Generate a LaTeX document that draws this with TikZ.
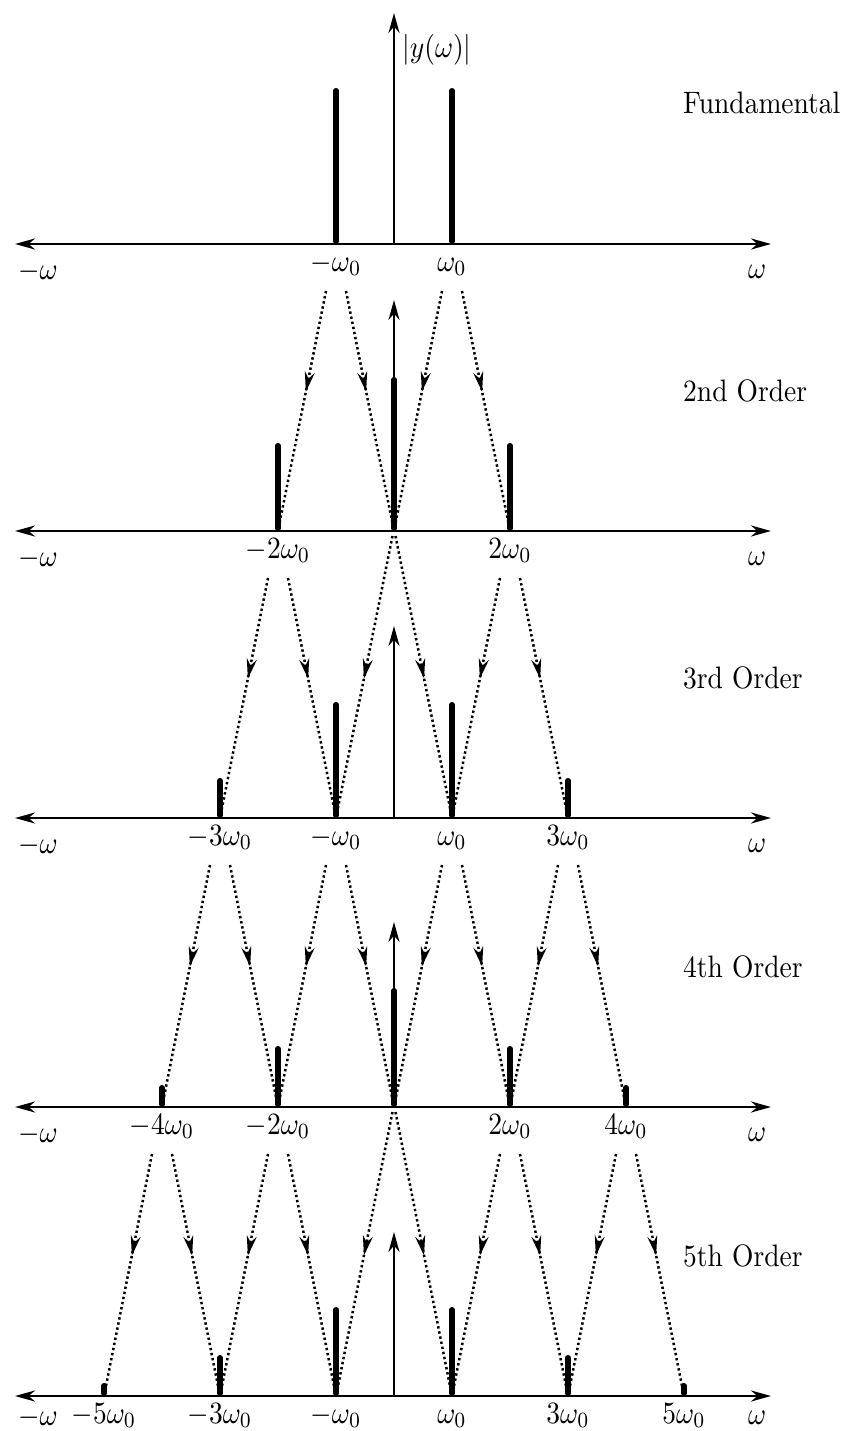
\documentclass[tikz,border=0pt]{standalone}
\usetikzlibrary{arrows.meta,decorations.markings,calc}
\newcommand{\wlab}[1]{%
  \ifnum#1=1 $\omega_0$\else\ifnum#1=-1 $-\omega_0$\else $#1\omega_0$\fi\fi}
\newcommand{\bigtxt}[1]{\scalebox{2.75}[3.1]{#1}}
\begin{document}
\begin{tikzpicture}[x=1pt,y=-1pt,
  axisline/.style={line width=2.8pt,{Stealth[length=20pt,width=11pt]}-{Stealth[length=20pt,width=11pt]}},
  yaxis/.style={line width=2.4pt,-{Stealth[length=20pt,width=11pt]}},
  bar/.style={line width=5.5pt,line cap=round,shorten <=2.75pt},
  dotline/.style={line width=2.5pt,dash pattern=on 2.4pt off 2.8pt},
  midarrow/.style={postaction={decorate},decoration={markings,
     mark=at position #1 with {\arrow{Stealth[length=20pt,width=10pt]}}}},
  lab/.style={inner sep=0pt},
  ttl/.style={inner sep=0pt,anchor=base west}]
\useasboundingbox (0,0) rectangle (853,1431);

% panels: axes, bars, labels
\foreach \p/\A/\T/\ttext/\bars/\lo in {
  1/244/13/{Fundamental}/{-1/156,1/156}/35,
  2/531/300/{2nd Order}/{-2/88,0/154,2/88}/35,
  3/818/626/{3rd Order}/{-3/40,-1/116,1/116,3/40}/35,
  4/1107/922/{4th Order}/{-4/22,-2/61,0/119,2/61,4/22}/35,
  5/1396/1232/{5th Order}/{-5/13,-3/41,-1/89,1/89,3/41,5/13}/29} {
  \coordinate (L\p) at (15,\A);
  \coordinate (R\p) at (771,\A);
  \draw[axisline] (L\p) -- (R\p);
  \foreach \n/\h in \bars {
    \coordinate (b\p_\n) at ({394+58*\n},\A);
    \coordinate (t\p_\n) at ({394+58*\n},{\A-\h+2.75});
    \draw[bar] (b\p_\n) -- (t\p_\n);
    \ifnum\n=0\else
      \node[lab,anchor=base] (w\p_\n) at ({394+58*\n},{\A+27}) {\bigtxt{\wlab{\n}}};
    \fi
  }
  \coordinate (O\p) at (394,\A);
  \coordinate (T\p) at (394,\T);
  \draw[yaxis] (O\p) -- (T\p);
  \node[lab,anchor=base west] (lw\p) at (18,{\A+\lo}) {\bigtxt{$-\omega$}};
  \node[lab,anchor=base west] (rw\p) at (748,{\A+\lo-1}) {\bigtxt{$\omega$}};
  \node[ttl] (ttl\p) at (683,{\A-130}) {\bigtxt{\ttext}};
}
\node[lab,anchor=base west] (ylab) at (402,58) {\bigtxt{$|y(\omega)|$}};

% dotted arrows between panels
\foreach \p/\Aprev/\A/\ns in {
  2/244/531/{-1,1},
  3/531/818/{-2,0,2},
  4/818/1107/{-3,-1,1,3},
  5/1107/1396/{-4,-2,0,2,4}} {
  \foreach \n in \ns {
    \foreach \d in {-1,1} {
      \pgfmathtruncatemacro\m{\n+\d}
      \ifnum\n=0
        \pgfmathsetmacro\xs{394+1.5*\d}\pgfmathsetmacro\ys{\Aprev+5}
      \else
        \pgfmathsetmacro\xs{394+58*\n+10*\d}\pgfmathsetmacro\ys{\Aprev+47}
      \fi
      \pgfmathsetmacro\yh{\Aprev+47+0.42*(\A-\Aprev-47)}
      \pgfmathsetmacro\f{(\yh-\ys)/(\A-\ys)}
      \coordinate (s\p_\n_\d) at (\xs,\ys);
      \draw[dotline,midarrow=\f] (s\p_\n_\d) -- (b\p_\m);
    }
  }
}
\end{tikzpicture}
\end{document}
